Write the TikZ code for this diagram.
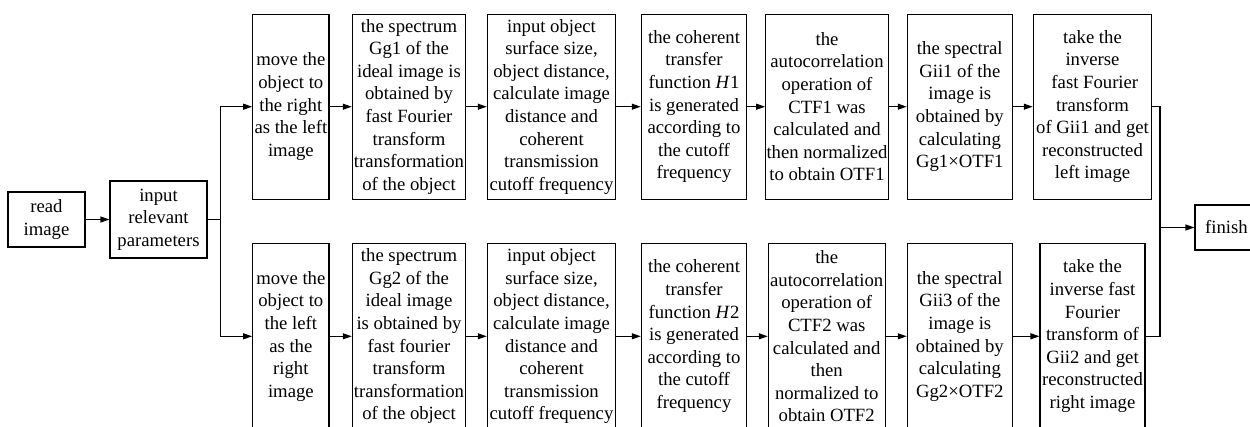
\documentclass[tikz,border=0pt]{standalone}
\usepackage{fontspec}
\setmainfont{Liberation Serif}
\usetikzlibrary{arrows.meta}

\begin{document}
\begin{tikzpicture}[x=1pt, y=-1pt,
  box/.style={draw, line width=1.1pt, align=center, inner sep=0pt,
              font=\fontsize{18.7}{22.6}\selectfont},
  tall/.style={box, minimum height=185.3pt},
  flow/.style={line width=1.1pt, -{Triangle[length=9pt, width=6pt]}},
  link/.style={line width=1.1pt}]

\useasboundingbox (0,0) rectangle (1250,426);
\clip (0,0) rectangle (1250,426);

% start of the chain
\node[box, minimum width=77pt, minimum height=55pt] (read) at (46.5,219.5) {read\\image};
\node[box, minimum width=97pt, minimum height=77pt] (param) at (158.5,219.5) {input\\relevant\\parameters};

% upper branch: left image
\node[tall, minimum width=76.3pt] (mvL) at (290.85,106.7) {move the\\object to\\the right\\as the left\\image};
\node[tall, minimum width=113.4pt] (spL) at (409,106.7) {the spectrum\\Gg1 of the\\ideal image is\\obtained by\\fast Fourier\\transform\\transformation\\of the object};
\node[tall, minimum width=128.4pt] (inL) at (551.5,106.7) {input object\\surface size,\\object distance,\\calculate image\\distance and\\coherent\\transmission\\cutoff frequency};
\node[tall, minimum width=105.4pt] (ctL) at (694,106.7) {the coherent\\transfer\\function \textit{H}1\\is generated\\according to\\the cutoff\\frequency};
\node[tall, minimum width=122.6pt] (acL) at (827,106.7) {the\\autocorrelation\\operation of\\CTF1 was\\calculated and\\then normalized\\to obtain OTF1};
\node[tall, minimum width=105pt] (giL) at (959.8,106.7) {the spectral\\Gii1 of the\\image is\\obtained by\\calculating\\Gg1×OTF1};
\node[tall, minimum width=118.4pt] (ivL) at (1092.5,106.7) {take the\\inverse\\\ fast Fourier\\transform\\of Gii1 and get\\reconstructed\\left image};

% lower branch: right image
\node[tall, minimum width=76.3pt] (mvR) at (290.85,336.3) {move the\\object to\\the left\\as the\\right\\image};
\node[tall, minimum width=113.4pt] (spR) at (409,336.3) {the spectrum\\Gg2 of the\\ideal image\\is obtained by\\fast fourier\\transform\\transformation\\of the object};
\node[tall, minimum width=128.4pt] (inR) at (551.5,336.3) {input object\\surface size,\\object distance,\\calculate image\\distance and\\coherent\\transmission\\cutoff frequency};
\node[tall, minimum width=105.4pt] (ctR) at (694,336.3) {the coherent\\transfer\\function \textit{H}2\\is generated\\according to\\the cutoff\\frequency};
\node[tall, minimum width=116.7pt] (acR) at (826.7,336.3) {the\\autocorrelation\\operation of\\CTF2 was\\calculated and\\then\\normalized to\\obtain OTF2};
\node[tall, minimum width=105pt] (giR) at (959.8,336.3) {the spectral\\Gii3 of the\\image is\\obtained by\\calculating\\Gg2×OTF2};
\node[tall, minimum width=105pt] (ivR) at (1092.5,336.3) {take the\\inverse fast\\Fourier\\transform of\\Gii2 and get\\reconstructed\\right image};

% end
\node[box, minimum width=63pt, minimum height=45pt] (fin) at (1226.5,227.5) {finish};

% branching and joining points
\coordinate (split) at (220.7,219.5);
\coordinate (join) at (1160,227.5);

\draw[flow] (read) -- (param);
\draw[link] (param.east) -- (split);
\draw[flow] (split) |- (mvL.west);
\draw[flow] (split) |- (mvR.west);

\foreach \a/\b in {mvL/spL, spL/inL, inL/ctL, ctL/acL, acL/giL, giL/ivL,
                   mvR/spR, spR/inR, inR/ctR, ctR/acR, acR/giR, giR/ivR}
  \draw[flow] (\a) -- (\b);

\draw[link] (ivL.east) -| (join);
\draw[link] (ivR.east) -| (join);
\draw[flow] (join) -- (fin.west);
\end{tikzpicture}
\end{document}
